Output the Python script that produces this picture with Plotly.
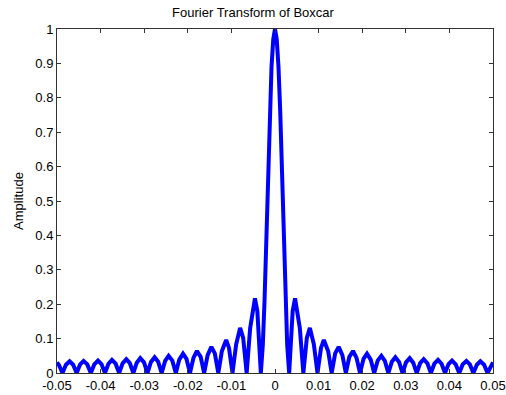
import plotly.graph_objects as go

# Right half of |FT| of boxcar (x >= 0)
freq_right = [0, 0.0004, 0.0008, 0.0012, 0.0016, 0.002, 0.0024, 0.0028, 0.00325,
              0.00405, 0.0046, 0.0057, 0.0065,
              0.0073, 0.0080, 0.0089, 0.00975,
              0.01055, 0.0112, 0.0122, 0.013,
              0.0138, 0.0146, 0.01545, 0.01625,
              0.01705, 0.0179, 0.0187, 0.0195,
              0.0203, 0.0211, 0.02195, 0.02275,
              0.02355, 0.0244, 0.0252, 0.026,
              0.0268, 0.0276, 0.02845, 0.02925,
              0.03005, 0.0309, 0.0317, 0.0325,
              0.0333, 0.0341, 0.03495, 0.03575,
              0.03655, 0.0374, 0.0382, 0.039,
              0.0398, 0.0406, 0.04145, 0.04225,
              0.04305, 0.0439, 0.0447, 0.0455,
              0.0463, 0.0471, 0.04795, 0.04875,
              0.04955, 0.05]
amp_right = [1.0, 0.97, 0.89, 0.76, 0.58, 0.39, 0.21, 0.08, 0,
             0.18, 0.217, 0.13, 0,
             0.102, 0.131, 0.084, 0,
             0.073, 0.096, 0.063, 0,
             0.057, 0.076, 0.052, 0,
             0.047, 0.064, 0.044, 0,
             0.041, 0.056, 0.039, 0,
             0.036, 0.050, 0.035, 0,
             0.033, 0.046, 0.032, 0,
             0.031, 0.043, 0.030, 0,
             0.029, 0.040, 0.028, 0,
             0.027, 0.038, 0.027, 0,
             0.026, 0.036, 0.025, 0,
             0.025, 0.035, 0.025, 0,
             0.024, 0.034, 0.024, 0,
             0.0235, 0.031]

x_ticks = [-0.05, -0.04, -0.03, -0.02, -0.01, 0, 0.01, 0.02, 0.03, 0.04, 0.05]
x_tick_labels = ["-0.05", "-0.04", "-0.03", "-0.02", "-0.01", "0",
                 "0.01", "0.02", "0.03", "0.04", "0.05"]
y_ticks = [0, 0.1, 0.2, 0.3, 0.4, 0.5, 0.6, 0.7, 0.8, 0.9, 1]
y_tick_labels = ["0", "0.1", "0.2", "0.3", "0.4", "0.5", "0.6", "0.7", "0.8", "0.9", "1"]

# symmetric spectrum
freq = [-v for v in reversed(freq_right[1:])] + freq_right
amp = list(reversed(amp_right[1:])) + amp_right

font = "Liberation Sans, Arial, sans-serif"

fig = go.Figure()
fig.add_trace(go.Scatter(x=freq, y=amp, mode="lines",
                         line=dict(color="#0000FF", width=4),
                         showlegend=False, hoverinfo="skip"))

axis_common = dict(showline=True, linecolor="#333333", linewidth=1, mirror="ticks",
                   ticks="inside", ticklen=4, tickcolor="#333333", tickwidth=1,
                   showgrid=False, zeroline=False, automargin=False,
                   tickfont=dict(family=font, size=13, color="black"))

fig.update_layout(
    width=506, height=395,
    margin=dict(l=57, r=13, t=29, b=22),
    paper_bgcolor="white", plot_bgcolor="white",
    font=dict(family=font, size=13, color="black"),
    title=dict(text="Fourier Transform of Boxcar", x=0.5, xanchor="center",
               y=1 - 12 / 395, yanchor="middle", yref="container",
               font=dict(family=font, size=13, color="black")),
    xaxis=dict(range=[-0.05, 0.05], tickvals=x_ticks, ticktext=x_tick_labels,
               **axis_common),
    yaxis=dict(range=[0, 1], tickvals=y_ticks, ticktext=y_tick_labels,
               title=dict(text="Amplitude", font=dict(family=font, size=13, color="black"),
                          standoff=8),
               **axis_common),
)

fig.write_html("out.html")
